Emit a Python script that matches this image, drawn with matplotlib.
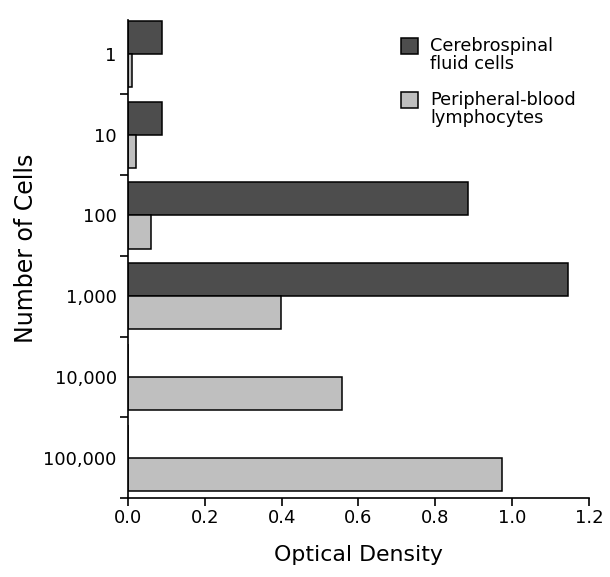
import numpy as np
import matplotlib
matplotlib.use("Agg")
import matplotlib.pyplot as plt
from matplotlib.patches import Rectangle

# data
cell_counts = ["1", "10", "100", "1,000", "10,000", "100,000"]
csf_od = [0.088, 0.088, 0.884, 1.145, 0.0, 0.0]
pbl_od = [0.010, 0.020, 0.059, 0.398, 0.556, 0.973]
legend_labels = ["Cerebrospinal\nfluid cells", "Peripheral-blood\nlymphocytes"]

dark = "#4d4d4d"
light = "#bfbfbf"

plt.rcParams['font.family'] = ['DejaVu Sans']

W, H = 610, 577
fig = plt.figure(figsize=(W/100, H/100), dpi=100)
ax = fig.add_axes([0.2098, 0.1369, 0.7557, 0.8284])

y = np.arange(len(cell_counts))
h = 0.41

ax.barh(y - h/2, csf_od, height=h, color=dark, edgecolor="black", linewidth=1.1)
ax.barh(y + h/2, pbl_od, height=h, color=light, edgecolor="black", linewidth=1.1)

ax.set_xlim(0, 1.2)
ax.set_ylim(5.5, -0.42)

ax.set_xticks(np.arange(0, 1.21, 0.2))
ax.set_xticklabels(["%.1f" % v for v in np.arange(0, 1.21, 0.2)], fontsize=13)
ax.set_yticks(y)
ax.set_yticklabels(cell_counts, fontsize=13)
ax.set_yticks(np.arange(0.5, 5.6, 1.0), minor=True)

ax.tick_params(axis="y", which="major", length=0, pad=8)
ax.tick_params(axis="y", which="minor", length=6, width=1.2, direction="out")
ax.tick_params(axis="x", which="major", length=6, width=1.2, direction="out", pad=2)

for s in ["top", "right"]:
    ax.spines[s].set_visible(False)
for s in ["left", "bottom"]:
    ax.spines[s].set_linewidth(1.2)

ax.set_xlabel("Optical Density", fontsize=15.8, labelpad=13)
ax.set_ylabel("Number of Cells", fontsize=17)
ax.yaxis.set_label_coords(-0.196, 0.523)

# legend drawn by hand: square lines up with the first text line
colors = [dark, light]
tops = [38, 92]
for c, t, lab in zip(colors, tops, legend_labels):
    fig.patches.append(Rectangle((401/W, 1 - (t + 16)/H), 17/W, 16/H,
                                 transform=fig.transFigure, facecolor=c,
                                 edgecolor="black", linewidth=1.1))
    fig.text(430/W, 1 - (t - 1)/H, lab, fontsize=12.8, va="top", ha="left",
             linespacing=1.0)

fig.savefig("out.png", dpi=100)
